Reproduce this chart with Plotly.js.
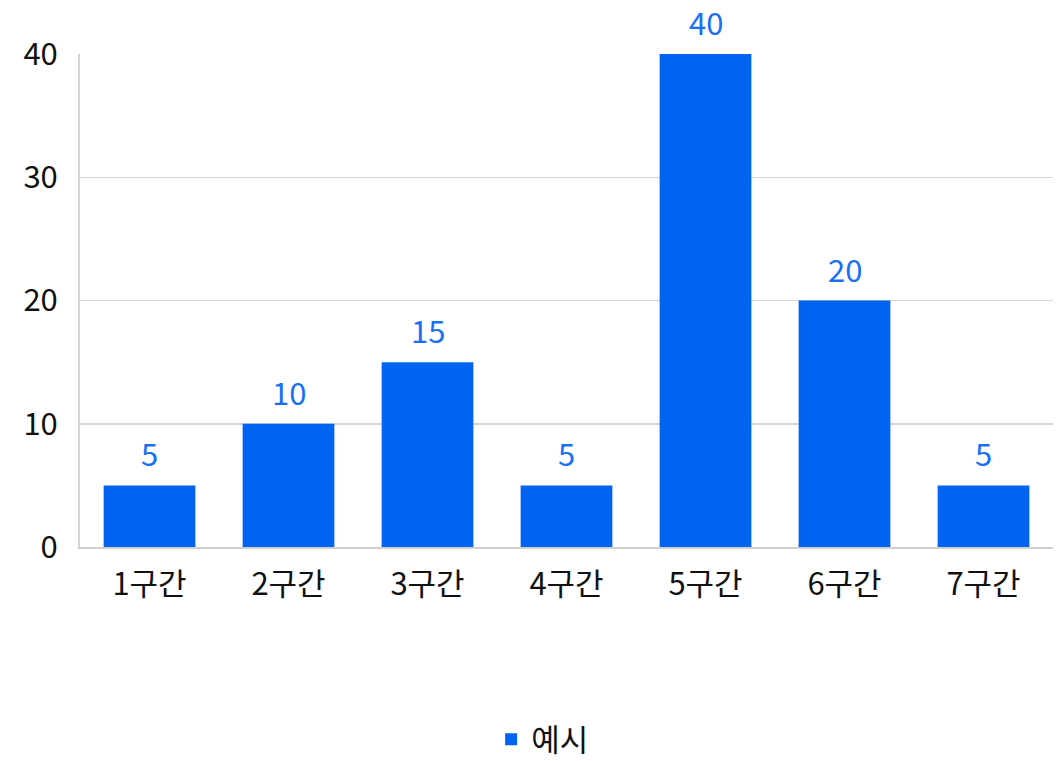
<!DOCTYPE html>
<html><head><meta charset="utf-8">
<script src="https://cdn.plot.ly/plotly-3.0.1.min.js"></script>
<style>body{margin:0;background:#fff}#c{width:1064px;height:761px}</style>
</head><body><div id="c"></div>
<script>
const categories = ['1구간','2구간','3구간','4구간','5구간','6구간','7구간'];
const values = [5, 10, 15, 5, 40, 20, 5];
const seriesName = '예시';
const yTicks = [0, 10, 20, 30, 40];

const FONT = '"Noto Sans CJK KR", "Noto Sans", sans-serif';
const BLUE = '#0064f0';

const trace = {
  type: 'bar', x: categories, y: values, name: seriesName,
  marker: {color: BLUE, line: {width: 0}},
  hoverinfo: 'none'
};
const annotations = categories.map((c, i) => ({
  x: c, y: values[i], xref: 'x', yref: 'y', text: String(values[i]),
  showarrow: false, yanchor: 'bottom', yshift: 8,
  font: {family: FONT, size: 31, color: '#1a6ff2'}
}));

Plotly.newPlot('c', [trace], {
  width: 1064, height: 761,
  margin: {l: 80, r: 11, t: 54, b: 214},
  paper_bgcolor: '#fff', plot_bgcolor: '#fff',
  bargap: 0.34,
  font: {family: FONT, size: 31, color: '#111'},
  xaxis: {showgrid: false, showline: true, linecolor: '#cfcfcf', linewidth: 2, automargin: false,
          ticks: '', ticklabelstandoff: 9, tickfont: {family: FONT, size: 31, color: '#111'}},
  yaxis: {range: [0, 40], tickvals: yTicks, showgrid: true, gridcolor: '#d6d6d6', gridwidth: 1.5,
          showline: true, linecolor: '#d6d6d6', linewidth: 2, zeroline: false, ticks: '', automargin: false,
          ticklabelstandoff: 14, tickfont: {family: FONT, size: 31, color: '#111'}},
  showlegend: true,
  legend: {orientation: 'h', x: 0.51, xref: 'container', xanchor: 'center',
           y: 0.028, yref: 'container', yanchor: 'middle',
           font: {family: FONT, size: 31, color: '#111'}},
  annotations: annotations
}, {displayModeBar: false, staticPlot: true});
</script></body></html>
